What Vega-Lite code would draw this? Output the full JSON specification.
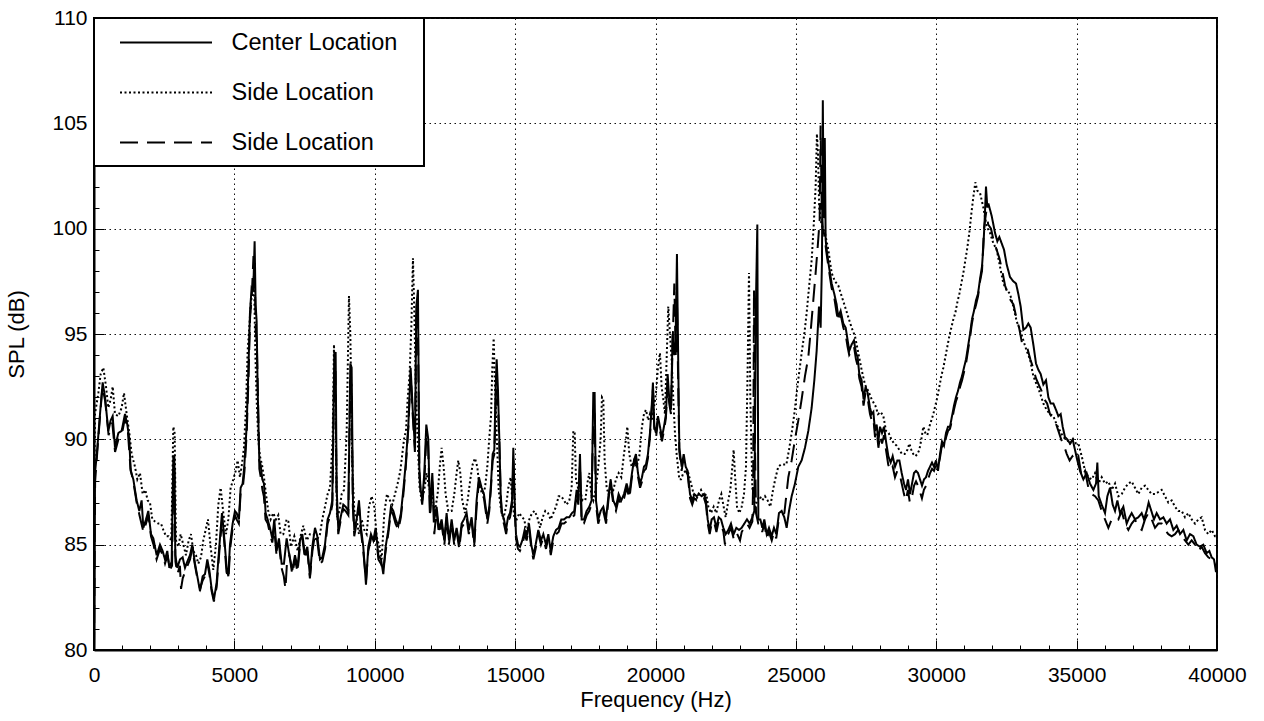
{
  "$schema": "https://vega.github.io/schema/vega-lite/v6.json",
  "width": 1123,
  "height": 632,
  "autosize": {"type": "none"},
  "padding": {"left": 94, "top": 18, "right": 47, "bottom": 71},
  "background": "white",
  "config": {
    "font": "Liberation Sans",
    "view": {"stroke": "black", "strokeWidth": 2},
    "axis": {
      "labelFont": "Liberation Sans",
      "titleFont": "Liberation Sans",
      "labelFontSize": 21,
      "titleFontSize": 22,
      "titleFontWeight": "normal",
      "labelColor": "black",
      "titleColor": "black",
      "domainColor": "black",
      "domainWidth": 2,
      "tickColor": "black",
      "tickWidth": 1,
      "gridColor": "#111",
      "gridDash": [1.5, 3.5],
      "gridWidth": 1,
      "gridOpacity": 1,
      "labelFlush": false,
      "labelOverlap": false
    },
    "legend": {
      "orient": "none",
      "legendX": 0,
      "legendY": 0,
      "strokeColor": "black",
      "strokeWidth": 2,
      "fillColor": "white",
      "padding": 12,
      "symbolType": "M-4,0H4M21,0",
      "symbolSize": 529,
      "symbolStrokeWidth": 2,
      "symbolStrokeColor": "black",
      "symbolFillColor": "transparent",
      "labelFont": "Liberation Sans",
      "labelFontSize": 23.5,
      "labelColor": "black",
      "rowPadding": 26,
      "symbolOffset": 47.5,
      "labelOffset": 53,
      "labelLimit": 400
    }
  },
  "datasets": {
    "center": [
      {"f":0,"v":80},{"f":36,"v":88.4},{"f":119,"v":89.6},{"f":214,"v":91.2},{"f":309,"v":92.7},{"f":392,"v":92.0},{"f":510,"v":90.4},{"f":594,"v":90.9},{"f":665,"v":91.1},{"f":748,"v":89.6},{"f":867,"v":90.3},{"f":985,"v":90.4},{"f":1104,"v":91.2},{"f":1187,"v":90.7},{"f":1258,"v":90.0},{"f":1306,"v":88.5},{"f":1401,"v":88.1},{"f":1519,"v":87.1},{"f":1614,"v":86.6},{"f":1697,"v":87.1},{"f":1757,"v":85.8},{"f":1852,"v":86.2},{"f":1935,"v":86.6},{"f":2030,"v":85.5},{"f":2113,"v":85.3},{"f":2232,"v":84.5},{"f":2350,"v":85.0},{"f":2445,"v":84.7},{"f":2528,"v":84.3},{"f":2611,"v":84.7},{"f":2683,"v":83.9},{"f":2766,"v":84.2},{"f":2825,"v":89.2},{"f":2861,"v":89.2},{"f":2896,"v":84.5},{"f":2968,"v":83.9},{"f":3062,"v":84.3},{"f":3157,"v":84.4},{"f":3241,"v":83.9},{"f":3324,"v":84.2},{"f":3419,"v":84.5},{"f":3502,"v":85.0},{"f":3597,"v":84.1},{"f":3680,"v":83.5},{"f":3775,"v":82.8},{"f":3870,"v":83.5},{"f":3953,"v":83.6},{"f":4036,"v":84.3},{"f":4107,"v":83.8},{"f":4190,"v":82.9},{"f":4273,"v":82.4},{"f":4368,"v":83.2},{"f":4463,"v":84.9},{"f":4558,"v":86.5},{"f":4629,"v":85.5},{"f":4724,"v":83.9},{"f":4784,"v":83.5},{"f":4843,"v":85.0},{"f":4938,"v":86.0},{"f":5021,"v":86.6},{"f":5080,"v":86.5},{"f":5163,"v":86.2},{"f":5223,"v":87.7},{"f":5294,"v":87.9},{"f":5353,"v":88.7},{"f":5436,"v":90.6},{"f":5496,"v":93.1},{"f":5555,"v":96.0},{"f":5614,"v":97.2},{"f":5674,"v":97.1},{"f":5721,"v":99.4},{"f":5757,"v":96.4},{"f":5793,"v":95.6},{"f":5828,"v":92.5},{"f":5888,"v":89.0},{"f":5935,"v":88.8},{"f":5994,"v":88.1},{"f":6054,"v":87.9},{"f":6113,"v":86.5},{"f":6184,"v":86.2},{"f":6267,"v":85.8},{"f":6350,"v":85.3},{"f":6422,"v":86.2},{"f":6505,"v":84.7},{"f":6588,"v":85.3},{"f":6683,"v":84.1},{"f":6766,"v":84.1},{"f":6861,"v":85.3},{"f":6944,"v":84.6},{"f":7064,"v":83.8},{"f":7159,"v":84.5},{"f":7254,"v":83.9},{"f":7337,"v":85.2},{"f":7420,"v":85.5},{"f":7515,"v":84.5},{"f":7598,"v":84.9},{"f":7693,"v":83.5},{"f":7776,"v":84.9},{"f":7871,"v":85.8},{"f":7954,"v":85.4},{"f":8049,"v":84.3},{"f":8132,"v":84.4},{"f":8227,"v":85.0},{"f":8322,"v":86.2},{"f":8405,"v":86.5},{"f":8488,"v":87.1},{"f":8560,"v":94.1},{"f":8607,"v":94.1},{"f":8643,"v":87.7},{"f":8702,"v":85.7},{"f":8785,"v":86.3},{"f":8880,"v":86.9},{"f":8963,"v":86.8},{"f":9058,"v":86.6},{"f":9130,"v":93.6},{"f":9177,"v":93.4},{"f":9224,"v":87.1},{"f":9272,"v":85.7},{"f":9355,"v":86.2},{"f":9438,"v":87.1},{"f":9509,"v":85.8},{"f":9592,"v":84.9},{"f":9687,"v":83.1},{"f":9770,"v":84.9},{"f":9865,"v":85.5},{"f":9949,"v":85.2},{"f":10032,"v":85.8},{"f":10127,"v":84.5},{"f":10222,"v":84.3},{"f":10305,"v":83.6},{"f":10388,"v":84.9},{"f":10483,"v":85.7},{"f":10578,"v":86.8},{"f":10661,"v":86.6},{"f":10744,"v":86.2},{"f":10839,"v":85.9},{"f":10934,"v":86.5},{"f":11017,"v":87.6},{"f":11100,"v":88.8},{"f":11195,"v":90.6},{"f":11278,"v":93.4},{"f":11349,"v":91.5},{"f":11432,"v":89.6},{"f":11480,"v":96.3},{"f":11539,"v":97.1},{"f":11587,"v":88.7},{"f":11634,"v":87.6},{"f":11694,"v":87.1},{"f":11765,"v":88.4},{"f":11836,"v":90.7},{"f":11907,"v":90.0},{"f":11966,"v":86.5},{"f":12050,"v":88.4},{"f":12121,"v":86.2},{"f":12204,"v":86.8},{"f":12287,"v":85.7},{"f":12382,"v":86.2},{"f":12477,"v":85.2},{"f":12560,"v":86.5},{"f":12643,"v":85.2},{"f":12738,"v":86.2},{"f":12833,"v":85.2},{"f":12916,"v":85.8},{"f":13011,"v":85.0},{"f":13094,"v":86.0},{"f":13177,"v":86.2},{"f":13272,"v":86.5},{"f":13355,"v":85.7},{"f":13450,"v":86.3},{"f":13545,"v":85.1},{"f":13628,"v":87.1},{"f":13711,"v":88.2},{"f":13806,"v":87.7},{"f":13889,"v":87.4},{"f":14010,"v":86.2},{"f":14081,"v":86.8},{"f":14141,"v":87.9},{"f":14200,"v":89.3},{"f":14259,"v":89.5},{"f":14307,"v":92.5},{"f":14343,"v":93.8},{"f":14390,"v":92.3},{"f":14437,"v":90.0},{"f":14485,"v":87.4},{"f":14532,"v":86.5},{"f":14604,"v":86.2},{"f":14675,"v":85.7},{"f":14746,"v":86.3},{"f":14817,"v":86.5},{"f":14889,"v":87.1},{"f":14936,"v":89.6},{"f":14983,"v":87.1},{"f":15031,"v":85.5},{"f":15102,"v":85.0},{"f":15173,"v":84.9},{"f":15256,"v":85.2},{"f":15340,"v":85.7},{"f":15411,"v":85.4},{"f":15494,"v":86.0},{"f":15577,"v":85.0},{"f":15648,"v":84.5},{"f":15731,"v":85.0},{"f":15826,"v":85.7},{"f":15921,"v":85.2},{"f":16004,"v":85.5},{"f":16099,"v":85.0},{"f":16183,"v":85.5},{"f":16266,"v":84.7},{"f":16361,"v":85.4},{"f":16456,"v":85.7},{"f":16550,"v":85.8},{"f":16645,"v":86.2},{"f":16740,"v":86.2},{"f":16835,"v":86.3},{"f":16930,"v":86.3},{"f":17025,"v":86.5},{"f":17108,"v":86.6},{"f":17191,"v":87.6},{"f":17251,"v":87.1},{"f":17310,"v":89.3},{"f":17370,"v":86.2},{"f":17453,"v":86.2},{"f":17548,"v":86.6},{"f":17642,"v":86.8},{"f":17725,"v":87.1},{"f":17785,"v":92.2},{"f":17832,"v":92.2},{"f":17880,"v":87.1},{"f":17963,"v":86.2},{"f":18046,"v":86.6},{"f":18141,"v":86.8},{"f":18236,"v":86.2},{"f":18331,"v":87.4},{"f":18402,"v":88.1},{"f":18497,"v":87.1},{"f":18592,"v":86.8},{"f":18687,"v":87.4},{"f":18782,"v":87.1},{"f":18877,"v":87.4},{"f":18972,"v":87.9},{"f":19067,"v":87.4},{"f":19162,"v":88.4},{"f":19233,"v":89.0},{"f":19304,"v":89.3},{"f":19375,"v":88.4},{"f":19446,"v":87.9},{"f":19518,"v":88.2},{"f":19589,"v":88.7},{"f":19660,"v":88.8},{"f":19731,"v":89.3},{"f":19802,"v":90.3},{"f":19862,"v":91.5},{"f":19909,"v":92.7},{"f":19957,"v":90.6},{"f":20016,"v":90.3},{"f":20087,"v":91.1},{"f":20159,"v":90.6},{"f":20230,"v":90.1},{"f":20301,"v":90.6},{"f":20372,"v":91.2},{"f":20432,"v":93.1},{"f":20491,"v":91.9},{"f":20551,"v":91.4},{"f":20610,"v":95.0},{"f":20669,"v":94.0},{"f":20717,"v":94.7},{"f":20764,"v":98.8},{"f":20812,"v":93.4},{"f":20848,"v":89.6},{"f":20932,"v":88.7},{"f":21004,"v":89.3},{"f":21075,"v":88.7},{"f":21146,"v":88.5},{"f":21229,"v":87.4},{"f":21312,"v":87.1},{"f":21383,"v":87.4},{"f":21467,"v":87.3},{"f":21550,"v":87.4},{"f":21645,"v":87.3},{"f":21728,"v":87.4},{"f":21799,"v":87.1},{"f":21858,"v":86.2},{"f":21929,"v":85.7},{"f":22001,"v":86.2},{"f":22084,"v":86.3},{"f":22167,"v":85.8},{"f":22250,"v":86.3},{"f":22333,"v":86.2},{"f":22416,"v":85.8},{"f":22499,"v":85.5},{"f":22594,"v":85.7},{"f":22689,"v":86.0},{"f":22784,"v":85.5},{"f":22879,"v":85.8},{"f":22974,"v":85.7},{"f":23069,"v":85.8},{"f":23164,"v":86.0},{"f":23259,"v":86.2},{"f":23354,"v":86.0},{"f":23449,"v":86.3},{"f":23520,"v":86.6},{"f":23579,"v":96.6},{"f":23627,"v":100.2},{"f":23663,"v":86.2},{"f":23734,"v":86.2},{"f":23805,"v":85.8},{"f":23876,"v":86.2},{"f":23959,"v":85.5},{"f":24042,"v":85.8},{"f":24137,"v":85.4},{"f":24220,"v":85.8},{"f":24303,"v":85.5},{"f":24398,"v":86.5},{"f":24493,"v":86.6},{"f":24588,"v":86.3},{"f":24672,"v":85.8},{"f":24755,"v":86.6},{"f":24850,"v":87.3},{"f":24968,"v":87.9},{"f":25087,"v":88.7},{"f":25205,"v":89.0},{"f":25324,"v":89.6},{"f":25443,"v":90.4},{"f":25562,"v":91.5},{"f":25657,"v":92.8},{"f":25740,"v":94.2},{"f":25823,"v":96.3},{"f":25882,"v":95.3},{"f":25930,"v":98.5},{"f":25960,"v":106.1},{"f":25990,"v":100.5},{"f":26030,"v":104.3},{"f":26060,"v":99.5},{"f":26095,"v":99.0},{"f":26179,"v":98.2},{"f":26274,"v":97.4},{"f":26369,"v":96.9},{"f":26452,"v":96.4},{"f":26511,"v":95.8},{"f":26594,"v":96.1},{"f":26689,"v":95.5},{"f":26773,"v":95.3},{"f":26844,"v":94.7},{"f":26903,"v":94.2},{"f":26986,"v":94.5},{"f":27069,"v":94.7},{"f":27140,"v":94.1},{"f":27200,"v":93.9},{"f":27259,"v":93.1},{"f":27342,"v":92.8},{"f":27413,"v":91.9},{"f":27485,"v":92.5},{"f":27556,"v":92.2},{"f":27639,"v":91.5},{"f":27700,"v":91.2},{"f":27760,"v":91.3},{"f":27819,"v":90.4},{"f":27878,"v":90.7},{"f":27938,"v":89.9},{"f":27997,"v":90.6},{"f":28068,"v":90.3},{"f":28140,"v":90.6},{"f":28211,"v":89.9},{"f":28294,"v":89.2},{"f":28377,"v":88.9},{"f":28448,"v":89.2},{"f":28531,"v":88.7},{"f":28614,"v":89.0},{"f":28686,"v":89.0},{"f":28769,"v":88.4},{"f":28852,"v":87.9},{"f":28923,"v":87.6},{"f":28994,"v":88.1},{"f":29065,"v":87.4},{"f":29137,"v":87.9},{"f":29208,"v":88.4},{"f":29279,"v":88.5},{"f":29350,"v":88.4},{"f":29421,"v":88.1},{"f":29493,"v":87.8},{"f":29564,"v":88.1},{"f":29635,"v":88.2},{"f":29706,"v":88.5},{"f":29778,"v":88.7},{"f":29849,"v":88.9},{"f":29920,"v":88.7},{"f":29991,"v":89.0},{"f":30063,"v":88.5},{"f":30134,"v":89.3},{"f":30205,"v":89.9},{"f":30276,"v":89.7},{"f":30347,"v":90.3},{"f":30419,"v":90.6},{"f":30490,"v":90.6},{"f":30561,"v":91.1},{"f":30632,"v":91.6},{"f":30703,"v":92.0},{"f":30775,"v":92.3},{"f":30846,"v":92.7},{"f":30917,"v":93.0},{"f":30988,"v":93.4},{"f":31060,"v":93.8},{"f":31131,"v":94.4},{"f":31202,"v":95.0},{"f":31273,"v":95.7},{"f":31344,"v":96.1},{"f":31416,"v":96.6},{"f":31487,"v":96.9},{"f":31558,"v":97.6},{"f":31629,"v":98.2},{"f":31677,"v":99.1},{"f":31724,"v":100.4},{"f":31772,"v":102.0},{"f":31819,"v":101.0},{"f":31856,"v":101.2},{"f":31975,"v":100.6},{"f":32093,"v":99.8},{"f":32176,"v":99.4},{"f":32248,"v":99.6},{"f":32331,"v":99.3},{"f":32414,"v":99.0},{"f":32509,"v":98.3},{"f":32628,"v":97.7},{"f":32746,"v":97.5},{"f":32841,"v":97.4},{"f":32924,"v":96.9},{"f":33007,"v":96.3},{"f":33102,"v":95.2},{"f":33197,"v":95.3},{"f":33280,"v":95.5},{"f":33363,"v":95.3},{"f":33458,"v":94.5},{"f":33553,"v":93.6},{"f":33637,"v":93.3},{"f":33720,"v":93.1},{"f":33815,"v":92.6},{"f":33909,"v":92.8},{"f":33993,"v":92.0},{"f":34076,"v":91.7},{"f":34171,"v":91.7},{"f":34266,"v":91.4},{"f":34349,"v":91.1},{"f":34432,"v":91.2},{"f":34503,"v":90.6},{"f":34586,"v":90.1},{"f":34669,"v":90.0},{"f":34764,"v":89.8},{"f":34859,"v":90.0},{"f":34942,"v":89.5},{"f":35025,"v":89.0},{"f":35121,"v":88.5},{"f":35240,"v":88.1},{"f":35359,"v":88.4},{"f":35477,"v":87.9},{"f":35596,"v":87.6},{"f":35691,"v":87.9},{"f":35738,"v":88.9},{"f":35786,"v":87.3},{"f":35893,"v":86.9},{"f":36011,"v":86.5},{"f":36095,"v":87.3},{"f":36190,"v":87.7},{"f":36285,"v":86.9},{"f":36368,"v":86.6},{"f":36451,"v":87.1},{"f":36546,"v":86.5},{"f":36664,"v":86.8},{"f":36783,"v":86.0},{"f":36878,"v":86.3},{"f":36961,"v":86.5},{"f":37080,"v":86.2},{"f":37198,"v":86.3},{"f":37317,"v":86.5},{"f":37400,"v":86.2},{"f":37495,"v":86.6},{"f":37566,"v":87.0},{"f":37661,"v":86.6},{"f":37756,"v":86.2},{"f":37851,"v":86.5},{"f":37970,"v":86.2},{"f":38089,"v":86.3},{"f":38207,"v":86.0},{"f":38326,"v":86.2},{"f":38445,"v":85.7},{"f":38564,"v":85.9},{"f":38682,"v":85.5},{"f":38801,"v":85.7},{"f":38920,"v":85.2},{"f":39038,"v":85.5},{"f":39157,"v":85.4},{"f":39276,"v":85.0},{"f":39394,"v":84.9},{"f":39513,"v":85.0},{"f":39632,"v":84.6},{"f":39727,"v":84.7},{"f":39810,"v":84.4},{"f":39893,"v":84.3},{"f":39964,"v":83.7},{"f":40000,"v":84.2}
    ],
    "side1": [
      {"f":0,"v":86.0},{"f":36,"v":91.2},{"f":154,"v":92.2},{"f":238,"v":93.1},{"f":333,"v":93.4},{"f":428,"v":92.5},{"f":510,"v":91.5},{"f":594,"v":91.9},{"f":665,"v":92.5},{"f":748,"v":91.2},{"f":867,"v":91.1},{"f":985,"v":91.5},{"f":1068,"v":92.2},{"f":1163,"v":91.2},{"f":1258,"v":90.3},{"f":1341,"v":89.3},{"f":1460,"v":88.7},{"f":1543,"v":88.1},{"f":1638,"v":88.4},{"f":1733,"v":87.4},{"f":1828,"v":87.6},{"f":1911,"v":87.1},{"f":1994,"v":87.0},{"f":2077,"v":86.2},{"f":2172,"v":86.1},{"f":2291,"v":86.0},{"f":2386,"v":86.0},{"f":2469,"v":85.7},{"f":2564,"v":85.4},{"f":2659,"v":85.4},{"f":2754,"v":85.2},{"f":2825,"v":90.6},{"f":2872,"v":90.3},{"f":2920,"v":85.2},{"f":3003,"v":84.9},{"f":3086,"v":85.5},{"f":3181,"v":85.0},{"f":3276,"v":84.5},{"f":3371,"v":85.2},{"f":3454,"v":85.5},{"f":3537,"v":84.7},{"f":3632,"v":84.5},{"f":3715,"v":84.1},{"f":3810,"v":84.4},{"f":3893,"v":85.2},{"f":3976,"v":85.7},{"f":4059,"v":86.2},{"f":4154,"v":84.9},{"f":4249,"v":83.8},{"f":4344,"v":85.0},{"f":4428,"v":86.9},{"f":4511,"v":87.7},{"f":4606,"v":86.5},{"f":4701,"v":85.5},{"f":4784,"v":86.2},{"f":4867,"v":87.7},{"f":4962,"v":88.1},{"f":5045,"v":88.5},{"f":5116,"v":89.0},{"f":5199,"v":88.2},{"f":5258,"v":88.7},{"f":5341,"v":89.6},{"f":5413,"v":91.5},{"f":5472,"v":94.2},{"f":5531,"v":95.3},{"f":5591,"v":96.6},{"f":5650,"v":96.8},{"f":5698,"v":97.8},{"f":5745,"v":94.2},{"f":5793,"v":91.9},{"f":5852,"v":90.0},{"f":5911,"v":89.2},{"f":5983,"v":88.8},{"f":6054,"v":88.2},{"f":6125,"v":87.4},{"f":6208,"v":86.6},{"f":6291,"v":86.2},{"f":6386,"v":86.5},{"f":6481,"v":86.2},{"f":6564,"v":86.4},{"f":6647,"v":85.5},{"f":6742,"v":85.5},{"f":6861,"v":86.2},{"f":6922,"v":86.1},{"f":7017,"v":84.9},{"f":7135,"v":85.4},{"f":7254,"v":84.7},{"f":7373,"v":85.5},{"f":7456,"v":85.9},{"f":7575,"v":85.2},{"f":7693,"v":85.5},{"f":7812,"v":85.5},{"f":7931,"v":85.2},{"f":8049,"v":85.5},{"f":8132,"v":86.2},{"f":8227,"v":86.8},{"f":8322,"v":87.4},{"f":8405,"v":87.7},{"f":8500,"v":90.0},{"f":8548,"v":94.5},{"f":8595,"v":91.9},{"f":8655,"v":86.3},{"f":8738,"v":86.6},{"f":8821,"v":87.4},{"f":8904,"v":87.6},{"f":8999,"v":90.3},{"f":9082,"v":96.8},{"f":9130,"v":95.0},{"f":9201,"v":88.7},{"f":9272,"v":86.6},{"f":9355,"v":86.2},{"f":9438,"v":85.5},{"f":9533,"v":86.2},{"f":9628,"v":85.7},{"f":9711,"v":85.5},{"f":9794,"v":86.8},{"f":9889,"v":87.3},{"f":9984,"v":86.8},{"f":10067,"v":85.4},{"f":10162,"v":84.9},{"f":10245,"v":84.3},{"f":10340,"v":86.5},{"f":10435,"v":87.4},{"f":10542,"v":87.1},{"f":10625,"v":86.9},{"f":10720,"v":87.4},{"f":10815,"v":87.9},{"f":10910,"v":88.5},{"f":10981,"v":89.3},{"f":11052,"v":90.1},{"f":11112,"v":90.4},{"f":11171,"v":91.9},{"f":11242,"v":93.1},{"f":11302,"v":95.3},{"f":11361,"v":98.6},{"f":11409,"v":96.1},{"f":11468,"v":92.2},{"f":11527,"v":90.0},{"f":11598,"v":87.7},{"f":11670,"v":87.1},{"f":11765,"v":87.6},{"f":11848,"v":88.4},{"f":11931,"v":87.7},{"f":12026,"v":87.4},{"f":12145,"v":86.6},{"f":12240,"v":87.4},{"f":12323,"v":88.8},{"f":12382,"v":89.6},{"f":12453,"v":88.7},{"f":12524,"v":87.4},{"f":12619,"v":86.6},{"f":12738,"v":86.6},{"f":12833,"v":87.4},{"f":12916,"v":88.4},{"f":12975,"v":89.0},{"f":13047,"v":88.4},{"f":13118,"v":87.1},{"f":13213,"v":86.5},{"f":13308,"v":87.1},{"f":13403,"v":88.1},{"f":13486,"v":88.8},{"f":13569,"v":89.1},{"f":13652,"v":88.7},{"f":13735,"v":87.7},{"f":13844,"v":87.4},{"f":13927,"v":87.7},{"f":14010,"v":88.7},{"f":14081,"v":90.1},{"f":14141,"v":91.1},{"f":14188,"v":93.4},{"f":14236,"v":94.8},{"f":14283,"v":92.5},{"f":14343,"v":90.3},{"f":14414,"v":87.6},{"f":14485,"v":86.8},{"f":14580,"v":86.2},{"f":14675,"v":86.8},{"f":14758,"v":87.7},{"f":14841,"v":88.2},{"f":14900,"v":87.1},{"f":14972,"v":86.3},{"f":15055,"v":86.2},{"f":15150,"v":86.5},{"f":15245,"v":86.3},{"f":15328,"v":86.2},{"f":15411,"v":85.5},{"f":15506,"v":86.2},{"f":15601,"v":86.5},{"f":15696,"v":86.6},{"f":15791,"v":86.3},{"f":15886,"v":85.8},{"f":15981,"v":86.3},{"f":16076,"v":86.6},{"f":16170,"v":86.5},{"f":16265,"v":86.2},{"f":16360,"v":86.5},{"f":16455,"v":86.8},{"f":16550,"v":87.3},{"f":16645,"v":87.3},{"f":16740,"v":87.1},{"f":16835,"v":86.9},{"f":16930,"v":87.1},{"f":17013,"v":87.7},{"f":17073,"v":90.4},{"f":17120,"v":90.3},{"f":17168,"v":88.1},{"f":17239,"v":87.7},{"f":17310,"v":87.6},{"f":17405,"v":87.1},{"f":17500,"v":87.1},{"f":17571,"v":87.9},{"f":17642,"v":88.4},{"f":17713,"v":87.4},{"f":17785,"v":87.1},{"f":17880,"v":87.7},{"f":17963,"v":88.7},{"f":18046,"v":90.0},{"f":18093,"v":92.0},{"f":18141,"v":91.9},{"f":18188,"v":89.0},{"f":18260,"v":87.7},{"f":18331,"v":87.4},{"f":18402,"v":87.7},{"f":18497,"v":87.6},{"f":18592,"v":88.1},{"f":18687,"v":88.4},{"f":18782,"v":88.2},{"f":18877,"v":89.3},{"f":18948,"v":90.0},{"f":18996,"v":90.6},{"f":19067,"v":89.3},{"f":19150,"v":88.7},{"f":19233,"v":89.0},{"f":19328,"v":88.7},{"f":19423,"v":89.2},{"f":19518,"v":90.6},{"f":19589,"v":91.2},{"f":19660,"v":91.4},{"f":19743,"v":90.9},{"f":19803,"v":91.2},{"f":19874,"v":90.9},{"f":19945,"v":91.5},{"f":20016,"v":92.2},{"f":20087,"v":93.4},{"f":20159,"v":94.1},{"f":20218,"v":92.5},{"f":20278,"v":91.9},{"f":20337,"v":91.2},{"f":20396,"v":93.8},{"f":20455,"v":96.3},{"f":20515,"v":95.0},{"f":20574,"v":93.8},{"f":20634,"v":91.9},{"f":20693,"v":90.3},{"f":20753,"v":89.3},{"f":20848,"v":88.1},{"f":20909,"v":88.1},{"f":20992,"v":88.4},{"f":21075,"v":88.5},{"f":21170,"v":88.4},{"f":21265,"v":87.9},{"f":21360,"v":87.4},{"f":21443,"v":87.1},{"f":21526,"v":87.4},{"f":21621,"v":87.6},{"f":21716,"v":87.3},{"f":21811,"v":87.4},{"f":21882,"v":86.8},{"f":21977,"v":86.5},{"f":22072,"v":86.8},{"f":22167,"v":86.5},{"f":22262,"v":87.1},{"f":22345,"v":87.4},{"f":22428,"v":86.8},{"f":22499,"v":86.3},{"f":22594,"v":87.1},{"f":22665,"v":87.6},{"f":22736,"v":88.7},{"f":22784,"v":89.5},{"f":22832,"v":88.3},{"f":22903,"v":86.8},{"f":22986,"v":86.5},{"f":23069,"v":86.8},{"f":23152,"v":87.4},{"f":23223,"v":88.7},{"f":23282,"v":93.4},{"f":23330,"v":97.9},{"f":23378,"v":91.9},{"f":23449,"v":87.7},{"f":23544,"v":86.8},{"f":23627,"v":87.1},{"f":23710,"v":87.3},{"f":23805,"v":87.1},{"f":23900,"v":87.3},{"f":23995,"v":87.1},{"f":24090,"v":86.8},{"f":24185,"v":87.6},{"f":24279,"v":88.2},{"f":24374,"v":88.7},{"f":24469,"v":88.8},{"f":24564,"v":88.8},{"f":24660,"v":88.8},{"f":24755,"v":89.5},{"f":24850,"v":90.3},{"f":24944,"v":91.2},{"f":25028,"v":92.2},{"f":25111,"v":93.1},{"f":25205,"v":94.1},{"f":25301,"v":95.0},{"f":25384,"v":96.0},{"f":25467,"v":97.2},{"f":25562,"v":98.5},{"f":25633,"v":100.1},{"f":25704,"v":102.0},{"f":25750,"v":104.5},{"f":25790,"v":103.5},{"f":25830,"v":101.0},{"f":25900,"v":100.3},{"f":25960,"v":100.0},{"f":26036,"v":99.8},{"f":26155,"v":99.0},{"f":26274,"v":97.9},{"f":26392,"v":97.5},{"f":26511,"v":97.3},{"f":26630,"v":96.8},{"f":26749,"v":96.3},{"f":26867,"v":95.8},{"f":26986,"v":95.3},{"f":27105,"v":94.9},{"f":27224,"v":94.1},{"f":27342,"v":93.3},{"f":27461,"v":92.6},{"f":27580,"v":92.3},{"f":27699,"v":91.9},{"f":27831,"v":91.6},{"f":27926,"v":91.2},{"f":28021,"v":91.3},{"f":28116,"v":91.1},{"f":28211,"v":90.4},{"f":28306,"v":90.3},{"f":28401,"v":90.0},{"f":28496,"v":89.8},{"f":28591,"v":89.7},{"f":28686,"v":89.5},{"f":28781,"v":89.3},{"f":28876,"v":89.3},{"f":28971,"v":89.5},{"f":29042,"v":89.8},{"f":29113,"v":89.5},{"f":29184,"v":89.3},{"f":29255,"v":89.2},{"f":29327,"v":89.3},{"f":29398,"v":89.5},{"f":29469,"v":90.0},{"f":29540,"v":90.6},{"f":29611,"v":90.3},{"f":29683,"v":90.2},{"f":29754,"v":90.6},{"f":29825,"v":90.9},{"f":29896,"v":91.2},{"f":29967,"v":91.6},{"f":30039,"v":92.0},{"f":30110,"v":92.5},{"f":30181,"v":93.0},{"f":30252,"v":93.4},{"f":30324,"v":93.9},{"f":30395,"v":94.4},{"f":30466,"v":94.9},{"f":30537,"v":95.3},{"f":30609,"v":95.7},{"f":30680,"v":96.0},{"f":30751,"v":96.5},{"f":30822,"v":96.9},{"f":30893,"v":97.4},{"f":30965,"v":97.9},{"f":31036,"v":98.5},{"f":31107,"v":99.1},{"f":31178,"v":99.8},{"f":31249,"v":100.7},{"f":31321,"v":101.5},{"f":31392,"v":102.2},{"f":31463,"v":101.8},{"f":31559,"v":101.7},{"f":31678,"v":101.0},{"f":31797,"v":100.1},{"f":31915,"v":99.8},{"f":32034,"v":99.3},{"f":32153,"v":99.0},{"f":32271,"v":98.2},{"f":32390,"v":97.4},{"f":32509,"v":97.1},{"f":32628,"v":96.9},{"f":32746,"v":96.3},{"f":32865,"v":95.6},{"f":32984,"v":95.2},{"f":33102,"v":94.7},{"f":33221,"v":94.2},{"f":33340,"v":93.8},{"f":33458,"v":93.0},{"f":33577,"v":92.6},{"f":33696,"v":92.2},{"f":33815,"v":91.7},{"f":33933,"v":91.4},{"f":34052,"v":91.2},{"f":34171,"v":91.1},{"f":34290,"v":90.7},{"f":34408,"v":90.4},{"f":34527,"v":90.1},{"f":34645,"v":90.0},{"f":34764,"v":89.8},{"f":34883,"v":90.0},{"f":34980,"v":89.8},{"f":35062,"v":89.8},{"f":35181,"v":89.2},{"f":35300,"v":88.5},{"f":35418,"v":88.2},{"f":35537,"v":88.1},{"f":35655,"v":88.4},{"f":35774,"v":87.9},{"f":35893,"v":88.2},{"f":36011,"v":87.9},{"f":36130,"v":88.0},{"f":36249,"v":87.6},{"f":36368,"v":87.9},{"f":36487,"v":87.3},{"f":36605,"v":87.4},{"f":36724,"v":87.7},{"f":36843,"v":87.9},{"f":36961,"v":88.0},{"f":37080,"v":87.7},{"f":37198,"v":87.4},{"f":37317,"v":87.7},{"f":37436,"v":87.8},{"f":37555,"v":87.6},{"f":37673,"v":87.4},{"f":37792,"v":87.4},{"f":37911,"v":87.5},{"f":38029,"v":87.6},{"f":38148,"v":87.3},{"f":38267,"v":87.0},{"f":38386,"v":87.1},{"f":38504,"v":86.8},{"f":38623,"v":86.6},{"f":38742,"v":86.6},{"f":38860,"v":86.3},{"f":38979,"v":86.5},{"f":39098,"v":86.2},{"f":39217,"v":86.0},{"f":39335,"v":86.2},{"f":39454,"v":86.3},{"f":39573,"v":85.7},{"f":39691,"v":85.5},{"f":39810,"v":85.7},{"f":39929,"v":85.4},{"f":40000,"v":85.4}
    ],
    "side2": [
      {"f":0,"v":80},{"f":40,"v":88.0},{"f":150,"v":90.0},{"f":300,"v":92.5},{"f":400,"v":91.8},{"f":520,"v":90.2},{"f":650,"v":90.8},{"f":750,"v":89.4},{"f":870,"v":90.0},{"f":1000,"v":90.3},{"f":1100,"v":91.0},{"f":1200,"v":90.5},{"f":1300,"v":88.6},{"f":1400,"v":88.0},{"f":1520,"v":87.0},{"f":1620,"v":86.4},{"f":1760,"v":85.6},{"f":1850,"v":86.0},{"f":1940,"v":86.4},{"f":2030,"v":85.4},{"f":2120,"v":85.0},{"f":2230,"v":84.3},{"f":2350,"v":84.8},{"f":2450,"v":84.5},{"f":2530,"v":84.1},{"f":2620,"v":84.5},{"f":2700,"v":83.8},{"f":2780,"v":84.0},{"f":2830,"v":88.8},{"f":2870,"v":88.6},{"f":2900,"v":84.2},{"f":2970,"v":83.6},{"f":3060,"v":84.0},{"f":3100,"v":82.9},{"f":3160,"v":83.4},{"f":3240,"v":83.7},{"f":3330,"v":84.0},{"f":3420,"v":84.3},{"f":3500,"v":84.8},{"f":3600,"v":84.0},{"f":3680,"v":83.4},{"f":3780,"v":82.9},{"f":3870,"v":83.3},{"f":3950,"v":83.5},{"f":4040,"v":84.1},{"f":4110,"v":83.6},{"f":4190,"v":82.8},{"f":4270,"v":82.3},{"f":4370,"v":83.0},{"f":4460,"v":84.6},{"f":4560,"v":86.2},{"f":4630,"v":85.3},{"f":4720,"v":83.7},{"f":4790,"v":83.4},{"f":4850,"v":84.8},{"f":4940,"v":85.8},{"f":5020,"v":86.4},{"f":5080,"v":86.2},{"f":5160,"v":86.0},{"f":5220,"v":87.4},{"f":5300,"v":87.7},{"f":5360,"v":88.5},{"f":5440,"v":90.3},{"f":5500,"v":92.8},{"f":5560,"v":95.8},{"f":5620,"v":96.8},{"f":5680,"v":98.7},{"f":5730,"v":97.5},{"f":5760,"v":95.2},{"f":5800,"v":94.5},{"f":5840,"v":92.0},{"f":5890,"v":88.6},{"f":5940,"v":88.2},{"f":6000,"v":87.6},{"f":6050,"v":87.3},{"f":6110,"v":86.2},{"f":6190,"v":86.0},{"f":6270,"v":85.5},{"f":6350,"v":85.1},{"f":6420,"v":85.8},{"f":6500,"v":84.5},{"f":6590,"v":85.0},{"f":6680,"v":83.9},{"f":6760,"v":83.5},{"f":6820,"v":82.9},{"f":6880,"v":84.3},{"f":6960,"v":84.5},{"f":7060,"v":83.6},{"f":7160,"v":84.3},{"f":7250,"v":83.7},{"f":7340,"v":85.0},{"f":7420,"v":85.3},{"f":7520,"v":84.3},{"f":7600,"v":84.7},{"f":7690,"v":83.4},{"f":7780,"v":84.7},{"f":7870,"v":85.5},{"f":7950,"v":85.2},{"f":8050,"v":84.1},{"f":8130,"v":84.2},{"f":8230,"v":84.8},{"f":8320,"v":86.0},{"f":8400,"v":86.3},{"f":8490,"v":86.9},{"f":8555,"v":93.2},{"f":8600,"v":93.2},{"f":8640,"v":87.3},{"f":8700,"v":85.5},{"f":8780,"v":86.1},{"f":8880,"v":86.7},{"f":8960,"v":86.6},{"f":9060,"v":86.4},{"f":9125,"v":92.8},{"f":9170,"v":92.6},{"f":9220,"v":86.8},{"f":9270,"v":85.4},{"f":9350,"v":86.0},{"f":9440,"v":86.8},{"f":9510,"v":85.6},{"f":9590,"v":84.7},{"f":9690,"v":83.3},{"f":9770,"v":84.7},{"f":9870,"v":85.3},{"f":9950,"v":85.0},{"f":10030,"v":85.6},{"f":10130,"v":84.3},{"f":10220,"v":84.1},{"f":10300,"v":83.8},{"f":10390,"v":84.7},{"f":10480,"v":85.5},{"f":10580,"v":86.6},{"f":10660,"v":86.4},{"f":10740,"v":86.0},{"f":10840,"v":85.7},{"f":10930,"v":86.3},{"f":11020,"v":87.4},{"f":11100,"v":88.6},{"f":11190,"v":90.4},{"f":11280,"v":93.1},{"f":11350,"v":91.2},{"f":11430,"v":89.4},{"f":11480,"v":95.8},{"f":11530,"v":96.3},{"f":11590,"v":88.3},{"f":11640,"v":87.4},{"f":11690,"v":86.9},{"f":11770,"v":88.1},{"f":11840,"v":90.2},{"f":11900,"v":89.7},{"f":11970,"v":86.3},{"f":12050,"v":88.0},{"f":12120,"v":85.5},{"f":12200,"v":86.6},{"f":12290,"v":85.5},{"f":12380,"v":86.0},{"f":12480,"v":85.0},{"f":12560,"v":86.3},{"f":12640,"v":85.0},{"f":12740,"v":86.0},{"f":12830,"v":85.0},{"f":12920,"v":85.6},{"f":13010,"v":84.8},{"f":13090,"v":85.8},{"f":13180,"v":86.0},{"f":13270,"v":86.3},{"f":13350,"v":85.5},{"f":13450,"v":86.1},{"f":13540,"v":84.9},{"f":13630,"v":86.8},{"f":13710,"v":88.0},{"f":13800,"v":87.5},{"f":13890,"v":87.2},{"f":14010,"v":86.0},{"f":14080,"v":86.6},{"f":14140,"v":87.7},{"f":14200,"v":89.0},{"f":14260,"v":89.3},{"f":14310,"v":91.8},{"f":14340,"v":92.4},{"f":14390,"v":91.5},{"f":14440,"v":89.8},{"f":14490,"v":87.2},{"f":14530,"v":86.3},{"f":14600,"v":86.0},{"f":14680,"v":85.5},{"f":14750,"v":86.1},{"f":14820,"v":86.3},{"f":14890,"v":86.9},{"f":14940,"v":89.0},{"f":14980,"v":86.8},{"f":15030,"v":85.3},{"f":15100,"v":84.8},{"f":15170,"v":84.7},{"f":15260,"v":85.0},{"f":15340,"v":85.5},{"f":15410,"v":85.2},{"f":15490,"v":85.8},{"f":15580,"v":84.8},{"f":15650,"v":84.3},{"f":15730,"v":84.8},{"f":15830,"v":85.5},{"f":15920,"v":85.0},{"f":16000,"v":85.3},{"f":16100,"v":84.8},{"f":16180,"v":85.3},{"f":16270,"v":84.5},{"f":16360,"v":85.2},{"f":16460,"v":85.5},{"f":16550,"v":85.6},{"f":16650,"v":86.0},{"f":16740,"v":86.0},{"f":16830,"v":86.1},{"f":16930,"v":86.1},{"f":17030,"v":86.3},{"f":17110,"v":86.4},{"f":17190,"v":87.4},{"f":17250,"v":86.9},{"f":17310,"v":88.8},{"f":17370,"v":86.0},{"f":17450,"v":86.0},{"f":17550,"v":86.4},{"f":17640,"v":86.6},{"f":17720,"v":86.9},{"f":17790,"v":91.4},{"f":17830,"v":91.2},{"f":17880,"v":86.9},{"f":17960,"v":86.0},{"f":18050,"v":86.4},{"f":18140,"v":86.6},{"f":18240,"v":86.0},{"f":18330,"v":87.2},{"f":18400,"v":87.9},{"f":18500,"v":86.9},{"f":18590,"v":86.6},{"f":18690,"v":87.2},{"f":18780,"v":86.9},{"f":18880,"v":87.2},{"f":18970,"v":87.7},{"f":19070,"v":87.2},{"f":19160,"v":88.2},{"f":19230,"v":88.8},{"f":19300,"v":89.1},{"f":19380,"v":88.2},{"f":19450,"v":87.7},{"f":19520,"v":88.0},{"f":19590,"v":88.5},{"f":19660,"v":88.6},{"f":19730,"v":89.1},{"f":19800,"v":90.1},{"f":19860,"v":91.3},{"f":19910,"v":92.4},{"f":19960,"v":90.4},{"f":20020,"v":90.1},{"f":20090,"v":90.9},{"f":20160,"v":90.4},{"f":20230,"v":89.9},{"f":20300,"v":90.4},{"f":20370,"v":91.0},{"f":20430,"v":92.6},{"f":20490,"v":91.7},{"f":20550,"v":91.2},{"f":20610,"v":94.5},{"f":20670,"v":97.4},{"f":20720,"v":94.0},{"f":20760,"v":97.0},{"f":20810,"v":92.5},{"f":20850,"v":89.4},{"f":20930,"v":88.5},{"f":21000,"v":89.1},{"f":21080,"v":88.5},{"f":21150,"v":88.3},{"f":21230,"v":87.2},{"f":21310,"v":86.9},{"f":21380,"v":87.2},{"f":21470,"v":87.1},{"f":21550,"v":87.2},{"f":21650,"v":87.1},{"f":21730,"v":87.2},{"f":21800,"v":86.9},{"f":21860,"v":86.0},{"f":21930,"v":85.5},{"f":22000,"v":86.0},{"f":22080,"v":86.1},{"f":22170,"v":85.6},{"f":22250,"v":86.1},{"f":22330,"v":86.0},{"f":22420,"v":85.6},{"f":22475,"v":85.0},{"f":22500,"v":85.3},{"f":22590,"v":85.5},{"f":22690,"v":85.8},{"f":22780,"v":85.3},{"f":22880,"v":85.6},{"f":23010,"v":85.2},{"f":23070,"v":85.6},{"f":23160,"v":85.8},{"f":23260,"v":86.0},{"f":23350,"v":85.8},{"f":23450,"v":86.1},{"f":23480,"v":88.0},{"f":23508,"v":97.1},{"f":23540,"v":90.0},{"f":23580,"v":86.5},{"f":23660,"v":86.0},{"f":23730,"v":86.0},{"f":23800,"v":85.6},{"f":23880,"v":86.0},{"f":23960,"v":85.3},{"f":24040,"v":85.6},{"f":24140,"v":85.2},{"f":24220,"v":85.6},{"f":24300,"v":85.3},{"f":24400,"v":86.3},{"f":24490,"v":86.4},{"f":24590,"v":86.5},{"f":24731,"v":88.2},{"f":24850,"v":89.0},{"f":24968,"v":90.0},{"f":25087,"v":90.9},{"f":25205,"v":91.9},{"f":25324,"v":93.0},{"f":25443,"v":93.9},{"f":25538,"v":95.3},{"f":25621,"v":96.6},{"f":25704,"v":97.9},{"f":25775,"v":99.1},{"f":25847,"v":100.4},{"f":25880,"v":104.9},{"f":25920,"v":101.0},{"f":25960,"v":100.0},{"f":26000,"v":99.8},{"f":26095,"v":98.8},{"f":26180,"v":98.0},{"f":26270,"v":97.2},{"f":26370,"v":96.7},{"f":26450,"v":96.0},{"f":26510,"v":95.6},{"f":26600,"v":95.9},{"f":26690,"v":95.3},{"f":26770,"v":95.0},{"f":26840,"v":94.4},{"f":26900,"v":94.0},{"f":26990,"v":94.2},{"f":27070,"v":94.4},{"f":27140,"v":93.8},{"f":27200,"v":93.5},{"f":27260,"v":92.9},{"f":27340,"v":92.5},{"f":27410,"v":91.6},{"f":27480,"v":92.2},{"f":27560,"v":91.9},{"f":27640,"v":91.2},{"f":27700,"v":90.9},{"f":27760,"v":91.0},{"f":27820,"v":90.1},{"f":27880,"v":90.4},{"f":27940,"v":89.6},{"f":28000,"v":90.2},{"f":28070,"v":89.8},{"f":28140,"v":90.2},{"f":28210,"v":89.5},{"f":28290,"v":88.8},{"f":28380,"v":88.5},{"f":28450,"v":88.7},{"f":28530,"v":88.2},{"f":28610,"v":88.5},{"f":28690,"v":88.4},{"f":28770,"v":87.9},{"f":28850,"v":87.4},{"f":28920,"v":87.1},{"f":28990,"v":87.6},{"f":29060,"v":87.0},{"f":29140,"v":87.3},{"f":29210,"v":87.8},{"f":29280,"v":88.0},{"f":29350,"v":87.8},{"f":29420,"v":87.5},{"f":29490,"v":87.2},{"f":29560,"v":87.6},{"f":29640,"v":87.8},{"f":29710,"v":88.1},{"f":29780,"v":88.4},{"f":29850,"v":88.6},{"f":29920,"v":88.5},{"f":29990,"v":88.8},{"f":30060,"v":88.7},{"f":30130,"v":89.1},{"f":30200,"v":89.7},{"f":30280,"v":89.6},{"f":30350,"v":90.1},{"f":30420,"v":90.4},{"f":30490,"v":90.5},{"f":30560,"v":90.9},{"f":30630,"v":91.4},{"f":30700,"v":91.8},{"f":30780,"v":92.1},{"f":30850,"v":92.5},{"f":30920,"v":92.8},{"f":30990,"v":93.2},{"f":31060,"v":93.6},{"f":31130,"v":94.2},{"f":31200,"v":94.8},{"f":31270,"v":95.5},{"f":31340,"v":96.0},{"f":31420,"v":96.4},{"f":31490,"v":96.8},{"f":31560,"v":97.5},{"f":31630,"v":98.0},{"f":31700,"v":100.0},{"f":31780,"v":100.8},{"f":31850,"v":100.2},{"f":31950,"v":100.0},{"f":32050,"v":99.4},{"f":32150,"v":99.0},{"f":32250,"v":98.6},{"f":32350,"v":98.0},{"f":32450,"v":97.3},{"f":32550,"v":96.9},{"f":32650,"v":96.6},{"f":32750,"v":96.4},{"f":32850,"v":95.8},{"f":32950,"v":95.3},{"f":33050,"v":94.6},{"f":33150,"v":94.4},{"f":33250,"v":94.3},{"f":33350,"v":93.8},{"f":33450,"v":93.4},{"f":33550,"v":92.9},{"f":33650,"v":92.6},{"f":33750,"v":92.3},{"f":33850,"v":91.9},{"f":33950,"v":91.7},{"f":34050,"v":91.2},{"f":34150,"v":91.0},{"f":34250,"v":90.8},{"f":34350,"v":90.4},{"f":34450,"v":90.0},{"f":34550,"v":89.7},{"f":34650,"v":89.3},{"f":34750,"v":89.0},{"f":34850,"v":89.2},{"f":34950,"v":89.0},{"f":35062,"v":89.2},{"f":35181,"v":88.2},{"f":35300,"v":88.5},{"f":35418,"v":87.7},{"f":35537,"v":87.4},{"f":35655,"v":87.3},{"f":35774,"v":87.1},{"f":35893,"v":86.6},{"f":36011,"v":86.2},{"f":36130,"v":85.8},{"f":36249,"v":86.2},{"f":36368,"v":86.3},{"f":36487,"v":86.2},{"f":36605,"v":86.6},{"f":36724,"v":86.0},{"f":36843,"v":85.7},{"f":36961,"v":86.0},{"f":37080,"v":86.2},{"f":37198,"v":85.8},{"f":37317,"v":85.7},{"f":37436,"v":86.2},{"f":37555,"v":86.5},{"f":37673,"v":86.2},{"f":37792,"v":85.8},{"f":37911,"v":86.0},{"f":38029,"v":86.0},{"f":38148,"v":85.7},{"f":38267,"v":85.5},{"f":38386,"v":85.4},{"f":38504,"v":85.5},{"f":38623,"v":85.7},{"f":38742,"v":85.4},{"f":38860,"v":85.2},{"f":38979,"v":85.0},{"f":39098,"v":85.2},{"f":39217,"v":85.0},{"f":39335,"v":84.7},{"f":39454,"v":84.9},{"f":39573,"v":84.6},{"f":39691,"v":84.4},{"f":39810,"v":84.3},{"f":39929,"v":84.1},{"f":40000,"v":83.9}
    ]
  },
  "layer": [
    {
      "layer": [
        {
          "data": {"name": "side1"},
          "mark": {"type": "line", "stroke": "black", "strokeWidth": 2},
          "encoding": {
            "x": {"field": "f", "type": "quantitative", "scale": {"domain": [0, 40000], "nice": false, "zero": false},
              "axis": {"orient": "bottom", "values": [0,5000,10000,15000,20000,25000,30000,35000,40000], "format": "d", "grid": true, "tickSize": -10, "labelPadding": 24, "title": "Frequency (Hz)", "titlePadding": 4}},
            "y": {"field": "v", "type": "quantitative", "scale": {"domain": [80, 110], "nice": false, "zero": false},
              "axis": {"orient": "left", "values": [80,85,90,95,100,105,110], "grid": true, "tickSize": -10, "labelPadding": 17, "title": "SPL (dB)", "titlePadding": 23}},
            "strokeDash": {"datum": "B", "type": "nominal",
              "scale": {"domain": ["A", "B", "C"], "range": [[1, 0], [2, 2.5], [18, 9]]},
              "legend": {"title": null, "labelExpr": "datum.value === 'A' ? 'Center Location' : 'Side Location'"}}
          }
        },
        {
          "data": {"name": "side2"},
          "mark": {"type": "line", "stroke": "black", "strokeWidth": 2},
          "encoding": {
            "x": {"field": "f", "type": "quantitative"},
            "y": {"field": "v", "type": "quantitative"},
            "strokeDash": {"datum": "C", "type": "nominal"}
          }
        },
        {
          "data": {"name": "center"},
          "mark": {"type": "line", "stroke": "black", "strokeWidth": 2},
          "encoding": {
            "x": {"field": "f", "type": "quantitative"},
            "y": {"field": "v", "type": "quantitative"},
            "strokeDash": {"datum": "A", "type": "nominal"}
          }
        }
      ]
    },
    {
      "data": {"name": "center"},
      "mark": {"type": "point", "opacity": 0, "size": 0},
      "encoding": {
        "x": {"field": "f", "type": "quantitative",
          "axis": {"orient": "bottom", "values": [1000,2000,3000,4000,6000,7000,8000,9000,11000,12000,13000,14000,16000,17000,18000,19000,21000,22000,23000,24000,26000,27000,28000,29000,31000,32000,33000,34000,36000,37000,38000,39000], "labels": false, "grid": false, "domain": false, "tickSize": -5, "title": null}},
        "y": {"field": "v", "type": "quantitative",
          "axis": {"orient": "left", "values": [81,82,83,84,86,87,88,89,91,92,93,94,96,97,98,99,101,102,103,104,106,107,108,109], "labels": false, "grid": false, "domain": false, "tickSize": -5, "title": null}}
      }
    }
  ],
  "resolve": {"axis": {"x": "independent", "y": "independent"}}
}
